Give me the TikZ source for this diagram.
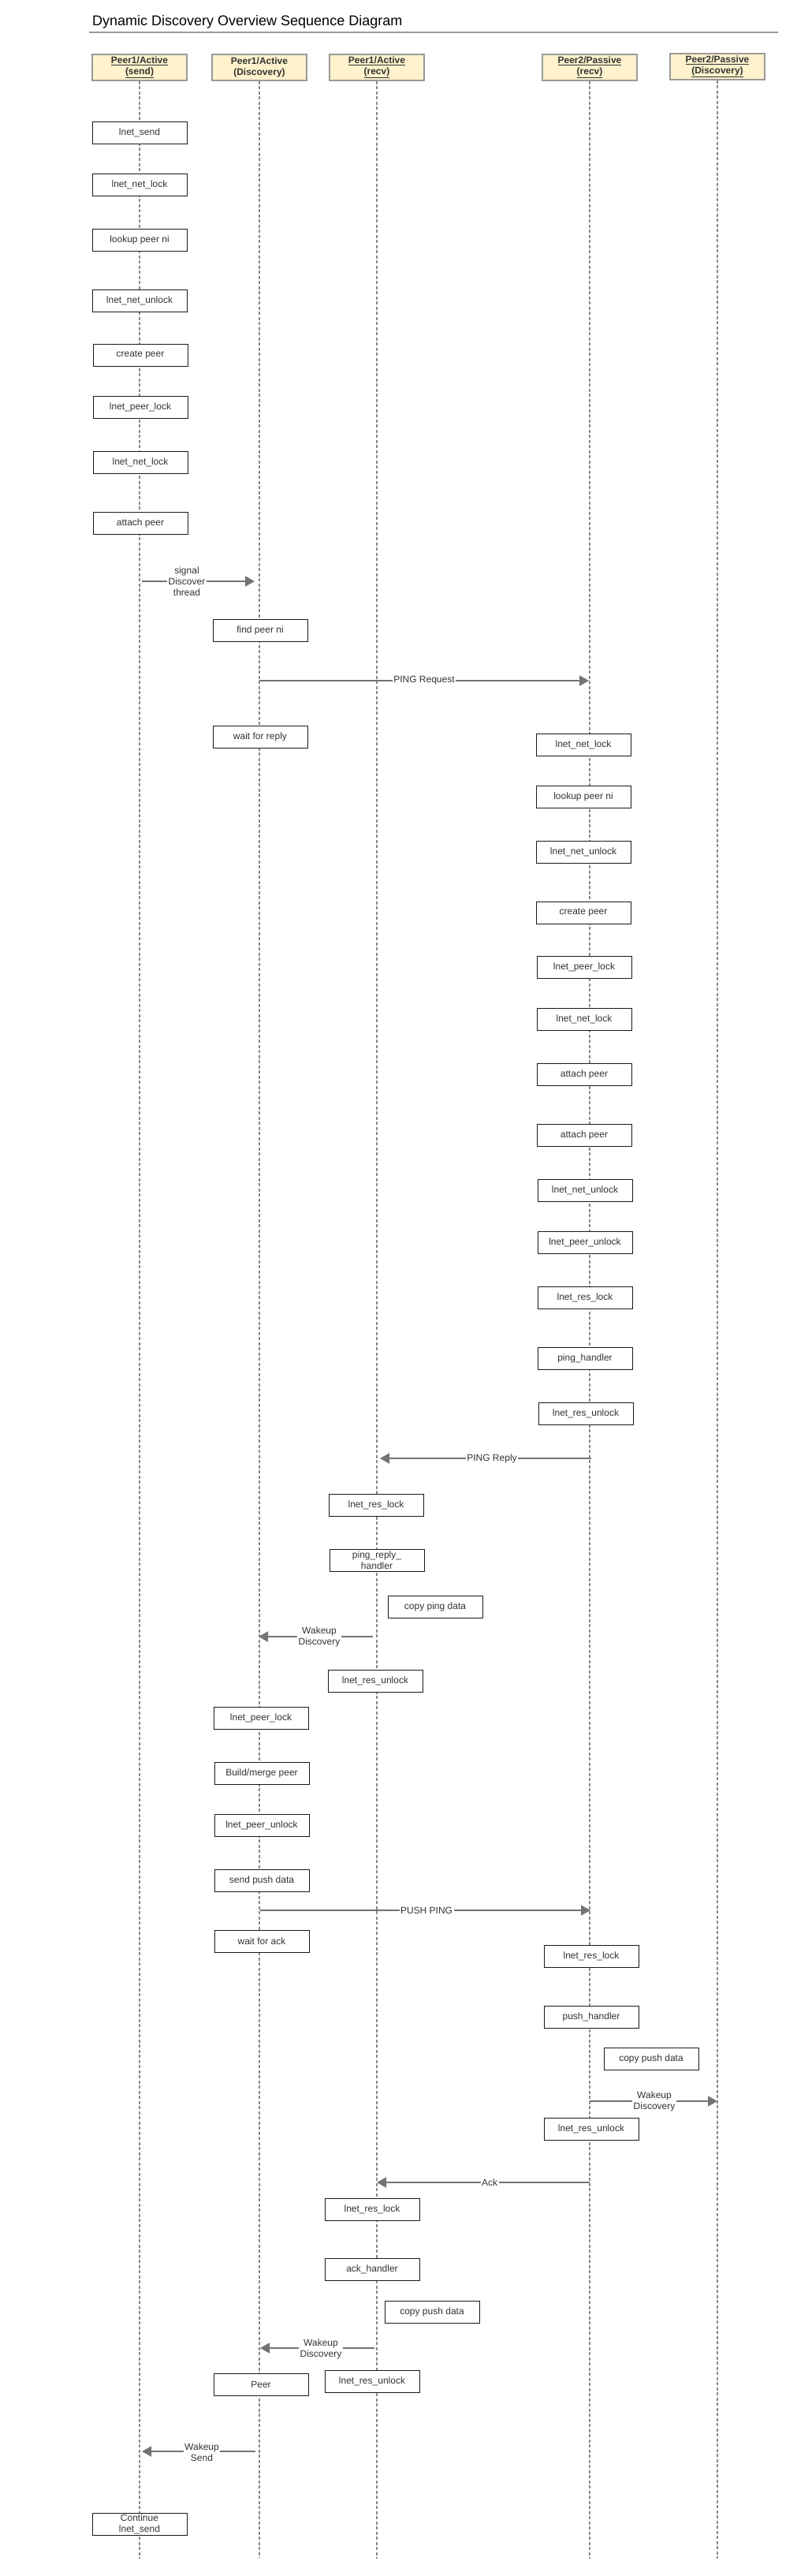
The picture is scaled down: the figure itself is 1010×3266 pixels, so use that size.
\documentclass[tikz,border=0pt]{standalone}
\usepackage{fontspec}
\setmainfont{Liberation Sans}
\usetikzlibrary{arrows.meta}
\definecolor{txt}{HTML}{333333}
\definecolor{hdrfill}{HTML}{FFF2CC}
\definecolor{hdrline}{HTML}{999999}
\definecolor{lifec}{HTML}{8A8A8A}
\definecolor{msgc}{HTML}{737373}
\definecolor{boxline}{HTML}{1A1A1A}
\begin{document}
\begin{tikzpicture}[x=1pt,y=-1pt,
 hdr/.style={draw=hdrline, line width=1.3pt, fill=hdrfill, minimum width=120pt, minimum height=33pt, inner sep=0pt, align=center, font=\fontsize{12}{14}\bfseries\selectfont, text=txt},
 act/.style={draw=boxline, line width=1pt, fill=white, minimum width=120pt, minimum height=28pt, inner sep=0pt, align=center, font=\fontsize{12}{14}\selectfont, text=txt},
 life/.style={draw=lifec, line width=1.2pt, dash pattern=on 4pt off 2.5pt},
 msg/.style={draw=msgc, line width=1.8pt, -{Triangle[length=12pt,width=13pt]}},
 lbl/.style={fill=white, inner sep=1.5pt, align=center, font=\fontsize{12}{14}\selectfont, text=txt},
]
\useasboundingbox (0,0) rectangle (1010,3266);
\fill[white] (0,0) rectangle (1010,3266);

% title
\node[anchor=base west, inner sep=0pt, font=\fontsize{18}{21}\selectfont, text=black] (title) at (117,32) {Dynamic Discovery Overview Sequence Diagram};
\coordinate (rl) at (113,41);
\coordinate (rr) at (987,41);
\draw[draw=hdrline, line width=1.5pt] (rl) -- (rr);

% headers
\node[hdr] (h1) at (177,85.5) {\underline{Peer1/Active}\\\underline{(send)}};
\node[hdr] (h2) at (329,85.5) {Peer1/Active\\(Discovery)};
\node[hdr] (h3) at (478,85.5) {\underline{Peer1/Active}\\\underline{(recv)}};
\node[hdr] (h4) at (748,85.5) {\underline{Peer2/Passive}\\\underline{(recv)}};
\node[hdr] (h5) at (910,84.5) {\underline{Peer2/Passive}\\\underline{(Discovery)}};

% lifelines
\coordinate (b1) at (177,3244);
\coordinate (b2) at (329,3243);
\coordinate (b3) at (478,3244);
\coordinate (b4) at (748,3244);
\coordinate (b5) at (910,3244);
\draw[life] (h1.south) -- (b1);
\draw[life] (h2.south) -- (b2);
\draw[life] (h3.south) -- (b3);
\draw[life] (h4.south) -- (b4);
\draw[life] (h5.south) -- (b5);

% lifeline 1 activities
\node[act] (a1) at (177,168) {lnet\_send};
\node[act] (a2) at (177,234) {lnet\_net\_lock};
\node[act] (a3) at (177,304) {lookup peer ni};
\node[act] (a4) at (177,381) {lnet\_net\_unlock};
\node[act] (a5) at (178,450) {create peer};
\node[act] (a6) at (178,516) {lnet\_peer\_lock};
\node[act] (a7) at (178,586) {lnet\_net\_lock};
\node[act] (a8) at (178,663) {attach peer};
\node[act] (a9) at (177,3200) {Continue\\lnet\_send};

% lifeline 2 activities
\node[act] (d1) at (330,799) {find peer ni};
\node[act] (d2) at (330,934) {wait for reply};
\node[act] (d3) at (331,2178) {lnet\_peer\_lock};
\node[act] (d4) at (332,2248) {Build/merge peer};
\node[act] (d5) at (332,2314) {lnet\_peer\_unlock};
\node[act] (d6) at (332,2384) {send push data};
\node[act] (d7) at (332,2461) {wait for ack};
\node[act] (d8) at (331,3023) {Peer};

% lifeline 3 activities
\node[act] (r1) at (477,1908) {lnet\_res\_lock};
\node[act] (r2) at (478,1978) {ping\_reply\_\\handler};
\node[act] (r3) at (552,2037) {copy ping data};
\node[act] (r4) at (476,2131) {lnet\_res\_unlock};
\node[act] (r5) at (472,2801) {lnet\_res\_lock};
\node[act] (r6) at (472,2877) {ack\_handler};
\node[act] (r7) at (548,2931) {copy push data};
\node[act] (r8) at (472,3019) {lnet\_res\_unlock};

% lifeline 4 activities
\node[act] (p1) at (740,944) {lnet\_net\_lock};
\node[act] (p2) at (740,1010) {lookup peer ni};
\node[act] (p3) at (740,1080) {lnet\_net\_unlock};
\node[act] (p4) at (740,1157) {create peer};
\node[act] (p5) at (741,1226) {lnet\_peer\_lock};
\node[act] (p6) at (741,1292) {lnet\_net\_lock};
\node[act] (p7) at (741,1362) {attach peer};
\node[act] (p8) at (741,1439) {attach peer};
\node[act] (p9) at (742,1509) {lnet\_net\_unlock};
\node[act] (p10) at (742,1575) {lnet\_peer\_unlock};
\node[act] (p11) at (742,1645) {lnet\_res\_lock};
\node[act] (p12) at (742,1722) {ping\_handler};
\node[act] (p13) at (743,1792) {lnet\_res\_unlock};
\node[act] (p14) at (750,2480) {lnet\_res\_lock};
\node[act] (p15) at (750,2557) {push\_handler};
\node[act] (p16) at (826,2610) {copy push data};
\node[act] (p17) at (750,2699) {lnet\_res\_unlock};

% message end points
\coordinate (m1s) at (180,737);  \coordinate (m1e) at (323,737);
\coordinate (m2s) at (329,863);  \coordinate (m2e) at (747,863);
\coordinate (m3s) at (750,1849); \coordinate (m3e) at (482,1849);
\coordinate (m4s) at (473,2075); \coordinate (m4e) at (328,2075);
\coordinate (m5s) at (330,2422); \coordinate (m5e) at (749,2422);
\coordinate (m6s) at (748,2664); \coordinate (m6e) at (910,2664);
\coordinate (m7s) at (748,2767); \coordinate (m7e) at (478,2767);
\coordinate (m8s) at (475,2977); \coordinate (m8e) at (330,2977);
\coordinate (m9s) at (324,3108); \coordinate (m9e) at (180,3108);

\draw[msg] (m1s) -- (m1e);
\draw[msg] (m2s) -- (m2e);
\draw[msg] (m3s) -- (m3e);
\draw[msg] (m4s) -- (m4e);
\draw[msg] (m5s) -- (m5e);
\draw[msg] (m6s) -- (m6e);
\draw[msg] (m7s) -- (m7e);
\draw[msg] (m8s) -- (m8e);
\draw[msg] (m9s) -- (m9e);

% message labels
\node[lbl] (l1) at (237,737) {signal\\Discover\\thread};
\node[lbl] (l2) at (538,863) {PING Request};
\node[lbl] (l3) at (624,1849) {PING Reply};
\node[lbl] (l4) at (405,2075.5) {Wakeup\\Discovery};
\node[lbl] (l5) at (541,2422) {PUSH PING};
\node[lbl] (l6) at (830,2664.5) {Wakeup\\Discovery};
\node[lbl] (l7) at (621,2767) {Ack};
\node[lbl] (l8) at (407,2978) {Wakeup\\Discovery};
\node[lbl] (l9) at (256,3109) {Wakeup\\Send};
\end{tikzpicture}
\end{document}
